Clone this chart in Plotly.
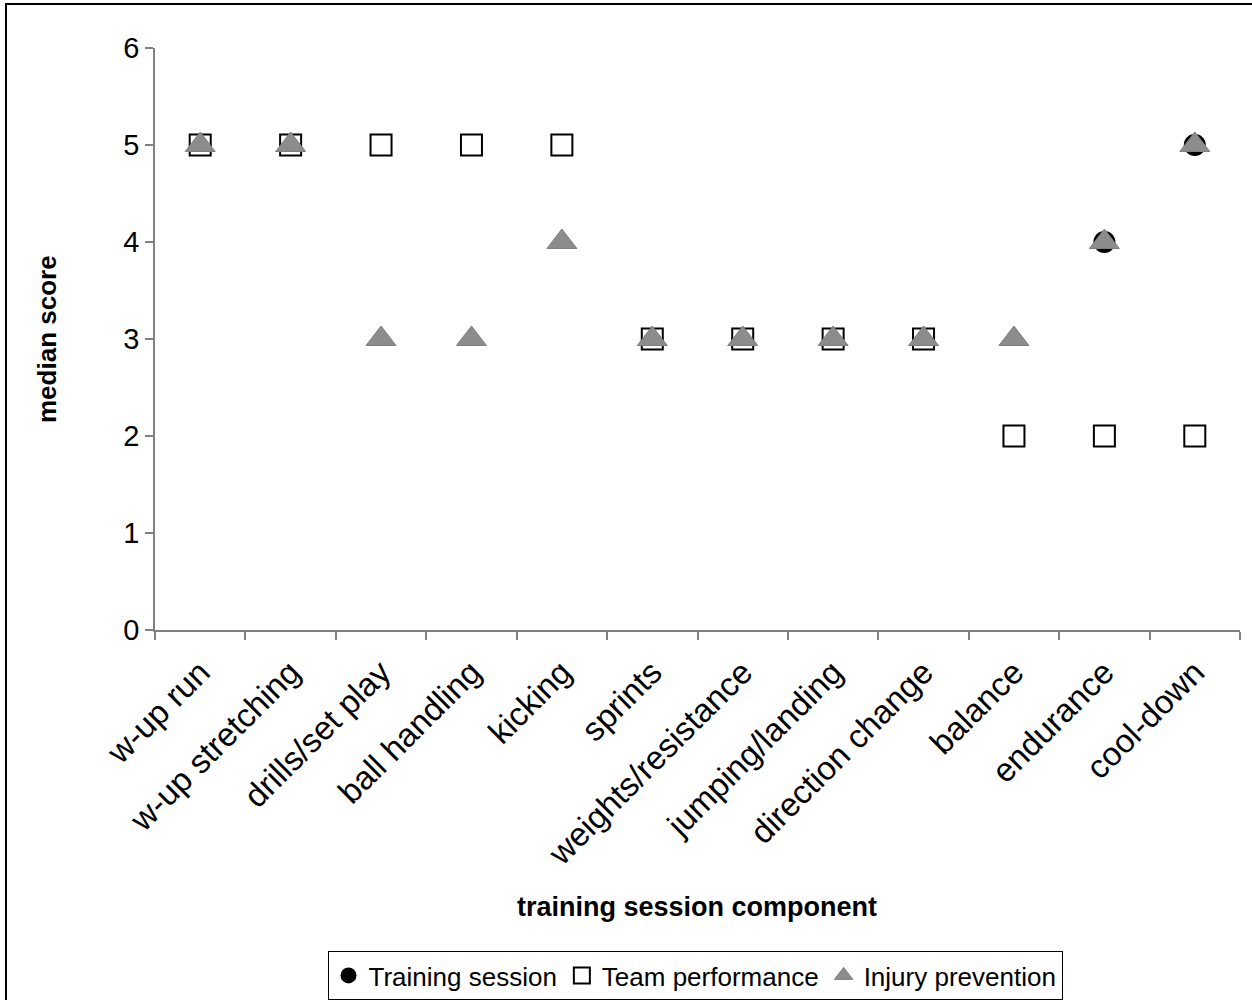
import plotly.graph_objects as go

categories = ["w-up run", "w-up stretching", "drills/set play", "ball handling", "kicking",
              "sprints", "weights/resistance", "jumping/landing", "direction change",
              "balance", "endurance", "cool-down"]
training_session = [5, 5, 5, 5, 5, 3, 3, 3, 3, 2, 4, 5]
team_performance = [5, 5, 5, 5, 5, 3, 3, 3, 3, 2, 2, 2]
injury_prevention = [5, 5, 3, 3, 4, 3, 3, 3, 3, 3, 4, 5]

W, H = 1252, 1000
L, R, T, B = 155, 12, 48, 370
pw, ph = W - L - R, H - T - B

fig = go.Figure()
fig.add_trace(go.Scatter(x=categories, y=training_session, mode="markers", name="Training session",
                         marker=dict(symbol="circle", size=22, color="black", line=dict(width=0))))
fig.add_trace(go.Scatter(x=categories, y=team_performance, mode="markers", name="Team performance",
                         marker=dict(symbol="square", size=21, color="white", line=dict(color="black", width=2))))
fig.add_trace(go.Scatter(x=categories, y=injury_prevention, mode="markers", name="Injury prevention",
                         marker=dict(symbol="triangle-up", size=26, color="#8c8c8c", line=dict(color="#7f7f7f", width=1))))

font_family = "Liberation Sans, Arial, sans-serif"

fig.update_layout(
    width=W, height=H,
    margin=dict(l=L, r=R, t=T, b=B, autoexpand=False),
    paper_bgcolor="white", plot_bgcolor="white",
    font=dict(family=font_family, color="black"),
    showlegend=True,
    legend=dict(orientation="h", x=(695 - L) / pw, xanchor="center", y=(T + ph - 951) / ph, yanchor="top",
                bordercolor="black", borderwidth=1, font=dict(size=26, family=font_family),
                itemsizing="trace", traceorder="normal", tracegroupgap=0, itemwidth=30),
    xaxis=dict(type="category", range=[-0.5, 11.5], showgrid=False, showline=True,
               linecolor="#808080", linewidth=1.5, ticks="outside", tickson="boundaries",
               ticklen=8, tickcolor="#808080", tickwidth=1.5, tickangle=-45, ticklabelstandoff=8,
               tickfont=dict(size=33, family=font_family), zeroline=False),
    yaxis=dict(range=[0, 6], dtick=1, showgrid=False, showline=True, linecolor="#808080",
               linewidth=1.5, ticks="outside", ticklen=8, tickcolor="#808080", tickwidth=1.5,
               tickfont=dict(size=29, family=font_family), zeroline=False),
    annotations=[
        dict(text="<b>training session component</b>", xref="paper", yref="paper",
             x=(697 - L) / pw, y=(T + ph - 907) / ph, xanchor="center", yanchor="middle",
             showarrow=False, font=dict(size=27, family=font_family)),
        dict(text="<b>median score</b>", xref="paper", yref="paper",
             x=(47 - L) / pw, y=(T + ph - 339) / ph, xanchor="center", yanchor="middle",
             textangle=-90, showarrow=False, font=dict(size=26, family=font_family)),
    ],
    shapes=[
        dict(type="rect", xref="paper", yref="paper",
             x0=(6 - L) / pw, x1=(1262 - L) / pw,
             y0=(T + ph - 1010) / ph, y1=(T + ph - 4) / ph,
             line=dict(color="black", width=2), layer="below"),
    ],
)

fig.write_html("out.html", config={"displayModeBar": False},
               post_script="document.body.style.margin='0';document.body.style.overflow='hidden';")
